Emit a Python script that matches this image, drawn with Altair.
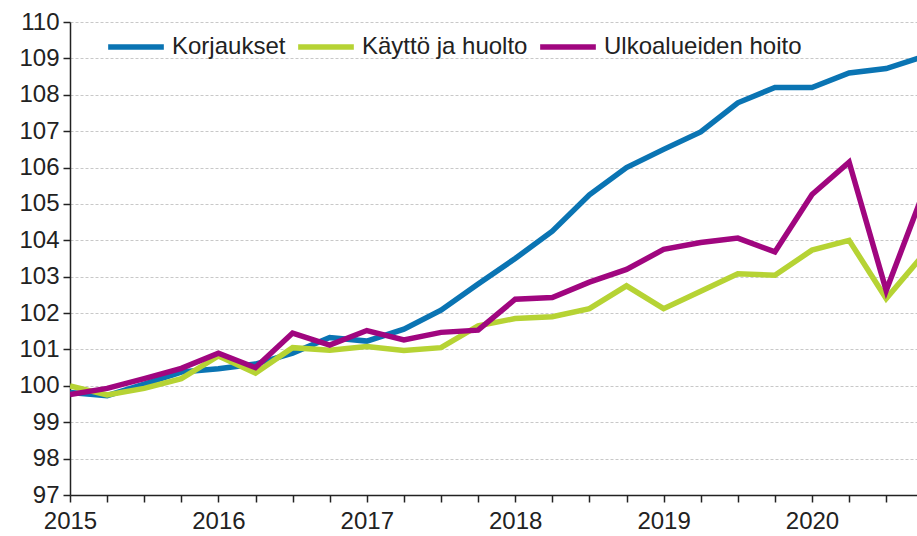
import altair as alt
import pandas as pd

series_names = ["Korjaukset", "Käyttö ja huolto", "Ulkoalueiden hoito"]
series_colors = ["#0a74b3", "#b6d334", "#a0067f"]
years = ["2015", "2016", "2017", "2018", "2019", "2020"]

# quarterly index values 2015Q1 .. 2020Q4
korjaukset = [99.82, 99.73, 100.05, 100.38, 100.47, 100.6, 100.9,
              101.33, 101.23, 101.56, 102.08, 102.8, 103.5, 104.25, 105.25,
              106.0, 106.5, 106.98, 107.78, 108.2, 108.2, 108.6, 108.72, 109.05]
kaytto = [100.0, 99.75, 99.93, 100.2, 100.82, 100.35, 101.05,
          100.98, 101.08, 100.97, 101.05, 101.65, 101.85, 101.9, 102.12,
          102.75, 102.12, 102.6, 103.08, 103.04, 103.73, 104.0, 102.4, 103.6]
ulko = [99.76, 99.93, 100.2, 100.48, 100.9, 100.5, 101.45,
        101.12, 101.52, 101.26, 101.47, 101.53, 102.38, 102.43, 102.85,
        103.2, 103.75, 103.94, 104.06, 103.68, 105.26, 106.15, 102.62, 105.3]

rows = []
for name, vals in zip(series_names, [korjaukset, kaytto, ulko]):
    for i, v in enumerate(vals):
        rows.append({"q": i, "value": v, "series": name, "ord": series_names.index(name)})
df = pd.DataFrame(rows)

label_expr = "datum.value % 4 == 0 ? " + str(years) + "[floor(datum.value / 4)] : ''"

FS = 24

chart = alt.Chart(df).mark_line(strokeWidth=5.5, clip=True, strokeJoin="miter", strokeCap="butt").encode(
    x=alt.X("q:Q",
            scale=alt.Scale(domain=[0, 22.83], nice=False, zero=False),
            axis=alt.Axis(values=list(range(0, 23)), labelExpr=label_expr, title=None,
                          grid=False, domainColor="#222222", domainWidth=1.5,
                          tickColor="#222222", tickWidth=1.5, tickSize=7,
                          labelFontSize=FS, labelColor="#222222", labelFont="Liberation Sans",
                          labelPadding=7, labelFlush=False, labelOverlap=False)),
    y=alt.Y("value:Q",
            scale=alt.Scale(domain=[97, 110], nice=False, zero=False),
            axis=alt.Axis(values=list(range(97, 111)), title=None, grid=True,
                          gridColor="#c8c8c8", gridDash=[3, 2], gridWidth=1,
                          domainColor="#222222", domainWidth=1.5,
                          tickColor="#222222", tickWidth=1.5, tickSize=7,
                          labelFontSize=FS, labelColor="#222222", labelFont="Liberation Sans",
                          labelPadding=4)),
    color=alt.Color("series:N",
                    scale=alt.Scale(domain=series_names, range=series_colors),
                    legend=alt.Legend(title=None, orient="none", direction="horizontal",
                                      legendX=35, legendY=-6,
                                      symbolType="stroke", symbolSize=3100,
                                      symbolStrokeWidth=5.5, labelFontSize=FS,
                                      labelFont="Liberation Sans", labelColor="#222222",
                                      labelOffset=5, columnPadding=1, padding=0,
                                      labelLimit=400)),
    order=alt.Order("ord:Q"),
    detail="series:N",
).properties(
    width=847, height=473,
    autosize=alt.AutoSizeParams(type="none"),
    padding={"left": 70, "top": 22, "right": 0, "bottom": 41},
).configure_view(stroke=None)

chart.save("out.html", embed_options={"renderer": "svg", "actions": False})
